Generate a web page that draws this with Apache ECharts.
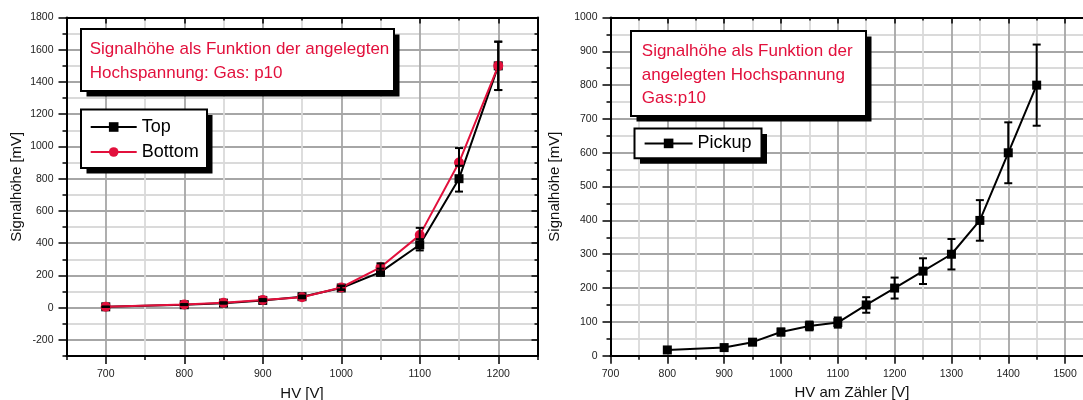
<!DOCTYPE html>
<html>
<head>
<meta charset="utf-8">
<script src="https://cdn.jsdelivr.net/npm/echarts@6/dist/echarts.min.js"></script>
<style>
html,body{margin:0;padding:0;background:#fff;}
#chart{width:1083px;height:400px;}
</style>
</head>
<body>
<div id="chart"></div>
<script>
// ---------- data ----------
const hvLeft = [700, 800, 850, 900, 950, 1000, 1050, 1100, 1150, 1200];
const topValues = [5, 18, 28, 45, 68, 122, 220, 390, 800, 1500];
const topErrors = [1, 2, 3, 5, 7, 12, 22, 35, 80, 150];
const bottomValues = [5, 20, 30, 48, 65, 125, 250, 450, 900, 1500];
const bottomErrors = [1, 2, 3, 5, 7, 12, 25, 45, 90, 150];

const hvRight = [800, 900, 950, 1000, 1050, 1100, 1150, 1200, 1250, 1300, 1350, 1400, 1450];
const pickupValues = [17, 24, 40, 70, 88, 98, 150, 200, 250, 300, 400, 600, 800];
const pickupErrors = [3, 4, 6, 10, 13, 15, 23, 31, 38, 45, 60, 90, 120];

const leftXTicks = [700, 800, 900, 1000, 1100, 1200];
const leftYTicks = [-200, 0, 200, 400, 600, 800, 1000, 1200, 1400, 1600, 1800];
const rightXTicks = [700, 800, 900, 1000, 1100, 1200, 1300, 1400, 1500];
const rightYTicks = [0, 100, 200, 300, 400, 500, 600, 700, 800, 900, 1000];

const leftNote = 'Signalhöhe als Funktion der angelegten\nHochspannung: Gas: p10';
const rightNote = 'Signalhöhe als Funktion der\nangelegten Hochspannung\nGas:p10';

// ---------- styling ----------
const FONT = '"Liberation Sans", Arial, Helvetica, sans-serif';
const RED = '#e2103c';
const DARK = '#a6a6a6';
const LIGHT = '#dadada';

function buildAxes(dim, grid, min, max, step, majors, splitColors, name, nameGap) {
  const mainPos = dim === 'x' ? 'bottom' : 'left';
  const framePos = dim === 'x' ? 'top' : 'right';
  const tickStyle = { color: '#000', width: 1.5 };
  const main = {
    type: 'value', gridIndex: grid, position: mainPos, min: min, max: max, interval: step,
    name: name, nameLocation: 'middle', nameGap: nameGap,
    nameTextStyle: { fontFamily: FONT, fontSize: 15, color: '#111' },
    axisLine: { show: true, onZero: false, lineStyle: { color: '#000', width: 2 } },
    axisTick: { show: true, inside: false, length: 4, lineStyle: tickStyle },
    axisLabel: {
      show: true, customValues: majors, margin: 13, fontFamily: FONT, fontSize: 10.5, color: '#222',
      formatter: function (v) { return majors.indexOf(v) >= 0 ? String(v) : ''; }
    },
    splitLine: { show: true, lineStyle: { color: splitColors, width: 1.8 } },
    minorTick: { show: false }, minorSplitLine: { show: false }
  };
  const mainMajor = {
    type: 'value', gridIndex: grid, position: mainPos, min: min, max: max, interval: step,
    axisLine: { show: false, onZero: false },
    axisTick: { show: true, inside: false, length: 8, customValues: majors, lineStyle: tickStyle },
    axisLabel: { show: false }, splitLine: { show: false }
  };
  const frame = {
    type: 'value', gridIndex: grid, position: framePos, min: min, max: max, interval: step,
    axisLine: { show: true, onZero: false, lineStyle: { color: '#000', width: 2 } },
    axisTick: { show: true, inside: true, length: 3, lineStyle: tickStyle },
    axisLabel: { show: false }, splitLine: { show: false }
  };
  const frameMajor = {
    type: 'value', gridIndex: grid, position: framePos, min: min, max: max, interval: step,
    axisLine: { show: false, onZero: false },
    axisTick: { show: true, inside: true, length: 6, customValues: majors, lineStyle: tickStyle },
    axisLabel: { show: false }, splitLine: { show: false }
  };
  return [main, mainMajor, frame, frameMajor];
}

function pairs(xs, ys) { return xs.map(function (x, i) { return [x, ys[i]]; }); }
function triples(xs, ys, es) { return xs.map(function (x, i) { return [x, ys[i], es[i]]; }); }

function errRender(params, api) {
  const x = api.value(0), y = api.value(1), e = api.value(2);
  const a = api.coord([x, y + e]);
  const b = api.coord([x, y - e]);
  const hw = 4;
  const st = { stroke: '#000', lineWidth: 2 };
  return {
    type: 'group',
    children: [
      { type: 'line', shape: { x1: a[0], y1: a[1], x2: b[0], y2: b[1] }, style: st },
      { type: 'line', shape: { x1: a[0] - hw, y1: a[1], x2: a[0] + hw, y2: a[1] }, style: st },
      { type: 'line', shape: { x1: b[0] - hw, y1: b[1], x2: b[0] + hw, y2: b[1] }, style: st }
    ]
  };
}

function box(x, y, w, h) {
  return [
    { type: 'rect', z: 10, shape: { x: x + 5.5, y: y + 5.5, width: w, height: h }, style: { fill: '#000' } },
    { type: 'rect', z: 11, shape: { x: x, y: y, width: w, height: h }, style: { fill: '#fff', stroke: '#000', lineWidth: 2 } }
  ];
}

const xAxes = [].concat(
  buildAxes('x', 0, 650, 1250, 50, leftXTicks, [LIGHT, DARK], 'HV [V]', 30),
  buildAxes('x', 1, 700, 1550, 50, rightXTicks, [DARK, LIGHT], 'HV am Zähler [V]', 30)
);
const yAxes = [].concat(
  buildAxes('y', 0, -300, 1800, 100, leftYTicks, [LIGHT, DARK], 'Signalhöhe [mV]', 42),
  buildAxes('y', 1, 0, 1000, 50, rightYTicks, [DARK, LIGHT], 'Signalhöhe [mV]', 48)
);

const option = {
  animation: false,
  backgroundColor: '#fff',
  textStyle: { fontFamily: FONT },
  grid: [
    { left: 66.5, top: 17.5, width: 471, height: 338.5, containLabel: false, outerBoundsMode: 'none' },
    { left: 610.5, top: 17.5, width: 483, height: 338.2, containLabel: false, outerBoundsMode: 'none' }
  ],
  xAxis: xAxes,
  yAxis: yAxes,
  legend: [
    {
      data: ['Top', 'Bottom'], orient: 'vertical', left: 89.7, top: 116, padding: 0,
      itemWidth: 46, itemHeight: 12, itemGap: 3, selectedMode: false, z: 20,
      textStyle: { fontFamily: FONT, fontSize: 18, lineHeight: 22, color: '#000' }
    },
    {
      data: ['Pickup'], orient: 'vertical', left: 643.6, top: 132.4, padding: 0,
      itemWidth: 48, itemHeight: 12, itemGap: 3, selectedMode: false, z: 20,
      textStyle: { fontFamily: FONT, fontSize: 18, lineHeight: 22, color: '#000' }
    }
  ],
  graphic: [].concat(
    box(81, 29, 313, 62),
    [{ type: 'text', z: 12, style: { text: leftNote, x: 89.7, y: 36.7, fill: RED, fontSize: 17, fontFamily: FONT, lineHeight: 24.3, verticalAlign: 'top' } }],
    box(81, 109.5, 126, 58.5),
    box(631, 31, 235, 85),
    [{ type: 'text', z: 12, style: { text: rightNote, x: 641.8, y: 39.6, fill: RED, fontSize: 17, fontFamily: FONT, lineHeight: 23.5, verticalAlign: 'top' } }],
    box(634.5, 128.6, 127, 29.6)
  ),
  series: [
    {
      name: 'Top', type: 'line', xAxisIndex: 0, yAxisIndex: 0, data: pairs(hvLeft, topValues),
      symbol: 'rect', symbolSize: 9, z: 2,
      lineStyle: { color: '#000', width: 2 }, itemStyle: { color: '#000' }
    },
    {
      name: 'Bottom', type: 'line', xAxisIndex: 0, yAxisIndex: 0, data: pairs(hvLeft, bottomValues),
      symbol: 'circle', symbolSize: 10, z: 2,
      lineStyle: { color: RED, width: 2 }, itemStyle: { color: RED }
    },
    {
      name: 'Top errors', type: 'custom', xAxisIndex: 0, yAxisIndex: 0, z: 3,
      data: triples(hvLeft, topValues, topErrors), encode: { x: 0, y: 1 }, renderItem: errRender
    },
    {
      name: 'Bottom errors', type: 'custom', xAxisIndex: 0, yAxisIndex: 0, z: 3,
      data: triples(hvLeft, bottomValues, bottomErrors), encode: { x: 0, y: 1 }, renderItem: errRender
    },
    {
      name: 'Pickup', type: 'line', xAxisIndex: 4, yAxisIndex: 4, data: pairs(hvRight, pickupValues),
      symbol: 'rect', symbolSize: 9, z: 2,
      lineStyle: { color: '#000', width: 2 }, itemStyle: { color: '#000' }
    },
    {
      name: 'Pickup errors', type: 'custom', xAxisIndex: 4, yAxisIndex: 4, z: 3,
      data: triples(hvRight, pickupValues, pickupErrors), encode: { x: 0, y: 1 }, renderItem: errRender
    }
  ]
};

const chart = echarts.init(document.getElementById('chart'), null, { renderer: 'canvas' });
chart.setOption(option);
</script>
</body>
</html>
